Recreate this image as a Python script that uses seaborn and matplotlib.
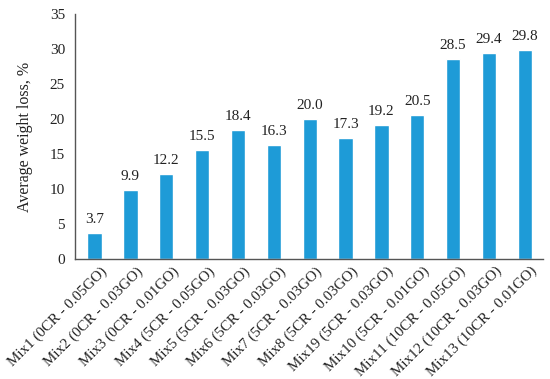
import matplotlib
matplotlib.use("Agg")
import matplotlib.pyplot as plt
import matplotlib.transforms as mtransforms
import seaborn as sns
import pandas as pd

mixes = [
    "Mix1 (0CR - 0.05GO)", "Mix2 (0CR - 0.03GO)", "Mix3 (0CR - 0.01GO)",
    "Mix4 (5CR - 0.05GO)", "Mix5 (5CR - 0.03GO)", "Mix6 (5CR - 0.03GO)",
    "Mix7 (5CR - 0.03GO)", "Mix8 (5CR - 0.03GO)", "Mix19 (5CR - 0.03GO)",
    "Mix10 (5CR - 0.01GO)", "Mix11 (10CR - 0.05GO)", "Mix12 (10CR - 0.03GO)",
    "Mix13 (10CR - 0.01GO)",
]
weight_loss = [3.7, 9.9, 12.2, 15.5, 18.4, 16.3, 20.0, 17.3, 19.2, 20.5, 28.5, 29.4, 29.8]

df = pd.DataFrame({"mix": mixes, "loss": weight_loss})

sns.set_style("white")
plt.rcParams["font.family"] = ["Liberation Serif", "DejaVu Serif"]

fig = plt.figure(figsize=(5.5, 3.79), dpi=100)
ax = fig.add_axes([0.136, 0.317, 0.851, 0.646])

sns.barplot(data=df, x="mix", y="loss", color="#1E9BD7", width=0.4,
            saturation=1, ax=ax)

for i, v in enumerate(weight_loss):
    ax.text(i, v + 1.0, f"{v:.1f}", ha="center", va="bottom", fontsize=11,
            color="#222222")

ax.set_ylim(0, 35)
ax.set_yticks(range(0, 36, 5))
ax.set_xlim(-0.55, 12.5)
ax.set_xlabel("")
ax.set_ylabel("Average weight loss, %", fontsize=11.5, color="#222222", labelpad=12)
ax.tick_params(axis="y", length=4, width=0.8, color="#555555",
               labelsize=11, labelcolor="#222222", direction="out", pad=3)
ax.tick_params(axis="x", length=0, labelsize=10.8, labelcolor="#222222", pad=4)
shift = mtransforms.ScaledTranslation(4 / 72, 0, fig.dpi_scale_trans)
for lab in ax.get_xticklabels():
    lab.set_rotation(45)
    lab.set_ha("right")
    lab.set_rotation_mode("anchor")
    lab.set_transform(lab.get_transform() + shift)

sns.despine(ax=ax)
for s in ("left", "bottom"):
    ax.spines[s].set_color("#555555")
    ax.spines[s].set_linewidth(1.0)

fig.savefig("out.png", dpi=100)
